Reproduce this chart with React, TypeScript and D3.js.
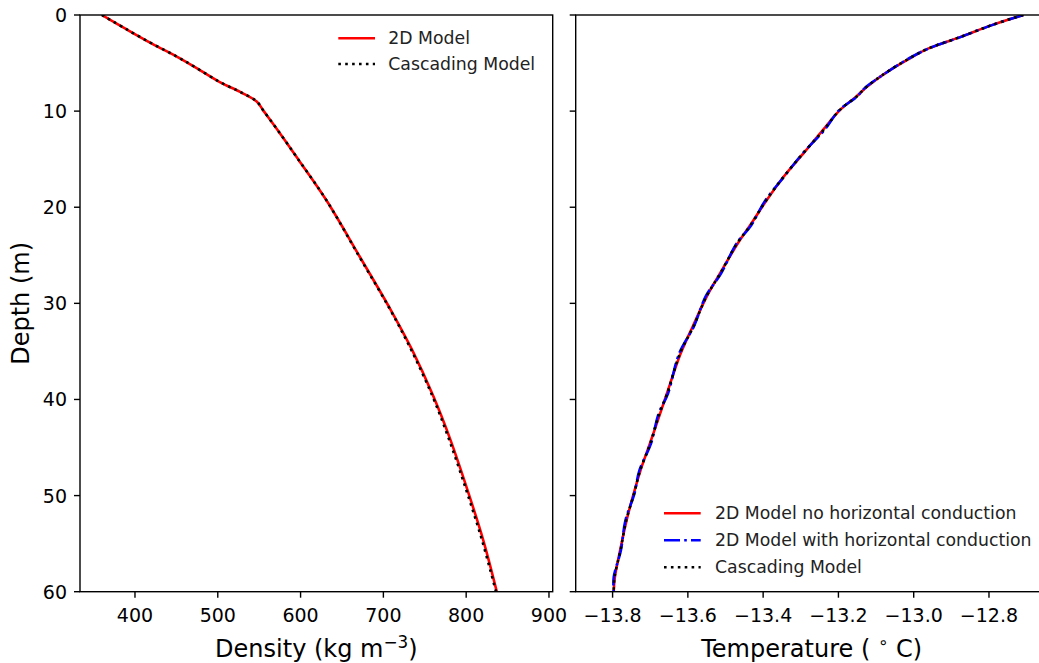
import React from "react";
import * as d3 from "d3";

// ---------- Data ----------
const densityDepth = [0, 1.5, 3, 4.3, 5.5, 7, 8, 9, 10, 12.3, 15, 19.25, 25.15, 30.7, 34.9, 39.7, 44.2, 49.4, 54.6, 60];
const density2D = [360, 390, 421, 450, 474, 503, 527, 547, 555.5, 575, 597, 631, 671.5, 709, 735, 760.5, 781, 801.5, 820.5, 837];
const densityCascade = [360, 390, 421, 450, 474, 503, 527, 547, 555.5, 575, 597, 631, 671, 708.5, 734, 759.5, 779.5, 800, 819, 836];

const tempDepth = [0, 1, 2.3, 3.5, 4.5, 5.9, 7.5, 8.5, 9.9, 12, 14.4, 16.8, 19.4, 21.9, 23.8, 26.9, 29.3, 32.4, 35.2, 39.4, 41.5, 44.6, 47.4, 49.8, 52.6, 55.7, 58.5, 60];
const tempNoHoriz = [-12.709, -12.789, -12.877, -12.962, -13.01, -13.07, -13.125, -13.153, -13.196, -13.242, -13.293, -13.345, -13.393, -13.435, -13.468, -13.515, -13.55, -13.587, -13.619, -13.656, -13.674, -13.701, -13.726, -13.744, -13.763, -13.78, -13.794, -13.797];
const tempWithHoriz = [-12.709, -12.788, -12.876, -12.961, -13.012, -13.069, -13.127, -13.151, -13.198, -13.238, -13.295, -13.344, -13.396, -13.432, -13.471, -13.512, -13.553, -13.584, -13.623, -13.653, -13.678, -13.698, -13.729, -13.742, -13.766, -13.778, -13.797, -13.797];
const tempCascade = [-12.709, -12.789, -12.877, -12.962, -13.011, -13.07, -13.126, -13.152, -13.197, -13.24, -13.294, -13.345, -13.394, -13.434, -13.47, -13.514, -13.551, -13.585, -13.621, -13.655, -13.676, -13.7, -13.727, -13.743, -13.764, -13.779, -13.795, -13.797];

const depthTicks = [0, 10, 20, 30, 40, 50, 60];
const densityTicks = [400, 500, 600, 700, 800, 900];
const tempTicks = [-13.8, -13.6, -13.4, -13.2, -13.0, -12.8];

const leftLegend = ["2D Model", "Cascading Model"];
const rightLegend = ["2D Model no horizontal conduction", "2D Model with horizontal conduction", "Cascading Model"];

// ---------- Layout ----------
const W = 1039;
const H = 663;
const top = 15;
const bottom = 591.7;
const L = { x0: 80, x1: 552.7 };
const R = { x0: 575.7, x1: 1047.7 };
const FONT = "DejaVu Sans, sans-serif";
const TICK_FS = 19;
const LABEL_FS = 24;
const LEG_FS = 17.3;
const LW = 2.6;

const fmtTemp = (v: number) => (v < 0 ? "\u2212" : "") + Math.abs(v).toFixed(1);

export default function App() {
  const y = d3.scaleLinear().domain([0, 60]).range([top, bottom]);
  const xD = d3.scaleLinear().domain([333.6, 904.5]).range([L.x0, L.x1]);
  const xT = d3.scaleLinear().domain([-13.898, -12.644]).range([R.x0, R.x1]);

  const lineD = (vals: number[]) =>
    d3
      .line<number>()
      .x((v) => xD(v))
      .y((_, i) => y(densityDepth[i]))
      .curve(d3.curveCatmullRom.alpha(0.5))(vals) || "";
  const lineT = (vals: number[]) =>
    d3
      .line<number>()
      .x((v) => xT(v))
      .y((_, i) => y(tempDepth[i]))
      .curve(d3.curveCatmullRom.alpha(0.5))(vals) || "";

  const dotted = "2.6 4.3";
  const dashdot = "16 4.2 2.6 4.2";

  return (
    <svg
      width={W}
      height={H}
      style={{ position: "absolute", left: 0, top: 0, background: "#fff" }}
      fontFamily={FONT}
    >
      <defs>
        <clipPath id="clipL">
          <rect x={L.x0} y={top} width={L.x1 - L.x0} height={bottom - top} />
        </clipPath>
        <clipPath id="clipR">
          <rect x={R.x0} y={top} width={R.x1 - R.x0} height={bottom - top} />
        </clipPath>
      </defs>

      {/* Left panel curves */}
      <g clipPath="url(#clipL)" fill="none">
        <path d={lineD(density2D)} stroke="#ff0000" strokeWidth={LW} />
        <path d={lineD(densityCascade)} stroke="#000" strokeWidth={LW} strokeDasharray={dotted} />
      </g>

      {/* Right panel curves */}
      <g clipPath="url(#clipR)" fill="none">
        <path d={lineT(tempNoHoriz)} stroke="#ff0000" strokeWidth={LW} />
        <path d={lineT(tempWithHoriz)} stroke="#0000ff" strokeWidth={LW} strokeDasharray={dashdot} />
        <path d={lineT(tempCascade)} stroke="#000" strokeWidth={LW} strokeDasharray={dotted} />
      </g>

      {/* Panel frames */}
      <rect x={L.x0} y={top} width={L.x1 - L.x0} height={bottom - top} fill="none" stroke="#000" strokeWidth={1.4} />
      <rect x={R.x0} y={top} width={R.x1 - R.x0} height={bottom - top} fill="none" stroke="#000" strokeWidth={1.4} />

      {/* Y ticks */}
      {depthTicks.map((t) => (
        <g key={"yl" + t}>
          <line x1={L.x0 - 6} x2={L.x0} y1={y(t)} y2={y(t)} stroke="#000" strokeWidth={1.4} />
          <text x={L.x0 - 13} y={y(t) + 7} textAnchor="end" fontSize={TICK_FS} fill="#000">
            {t}
          </text>
          <line x1={R.x0 - 6} x2={R.x0} y1={y(t)} y2={y(t)} stroke="#000" strokeWidth={1.4} />
        </g>
      ))}

      {/* X ticks left */}
      {densityTicks.map((t) => (
        <g key={"xd" + t}>
          <line x1={xD(t)} x2={xD(t)} y1={bottom} y2={bottom + 6} stroke="#000" strokeWidth={1.4} />
          <text x={xD(t)} y={621.5} textAnchor="middle" fontSize={TICK_FS} fill="#000">
            {t}
          </text>
        </g>
      ))}

      {/* X ticks right */}
      {tempTicks.map((t) => (
        <g key={"xt" + t}>
          <line x1={xT(t)} x2={xT(t)} y1={bottom} y2={bottom + 6} stroke="#000" strokeWidth={1.4} />
          <text x={xT(t)} y={621.5} textAnchor="middle" fontSize={TICK_FS} fill="#000">
            {fmtTemp(t)}
          </text>
        </g>
      ))}

      {/* Axis labels */}
      <text
        transform={`translate(29,${(top + bottom) / 2}) rotate(-90)`}
        textAnchor="middle"
        fontSize={LABEL_FS}
        fill="#000"
      >
        Depth (m)
      </text>
      <text x={(L.x0 + L.x1) / 2} y={656.5} textAnchor="middle" fontSize={LABEL_FS} fill="#000">
        Density (kg m
        <tspan fontSize={LABEL_FS * 0.7} dy={-9}>{"\u22123"}</tspan>
        <tspan dy={9}>)</tspan>
      </text>
      <text x={(R.x0 + R.x1) / 2} y={656.5} textAnchor="middle" fontSize={LABEL_FS} fill="#000" xmlSpace="preserve">
        {"Temperature ( "}
        <tspan fontSize={LABEL_FS * 0.7} dy={-9}>{"\u2218"}</tspan>
        <tspan dy={9}>{" C)"}</tspan>
      </text>

      {/* Left legend */}
      {leftLegend.map((lab, i) => {
        const ly = 38.3 + i * 25.7;
        return (
          <g key={"ll" + i}>
            <line
              x1={338.3}
              x2={375}
              y1={ly}
              y2={ly}
              stroke={i === 0 ? "#ff0000" : "#000"}
              strokeWidth={LW}
              strokeDasharray={i === 0 ? undefined : dotted}
            />
            <text x={388.3} y={ly + 6} fontSize={LEG_FS} fill="#222">
              {lab}
            </text>
          </g>
        );
      })}

      {/* Right legend */}
      {rightLegend.map((lab, i) => {
        const ly = 513.3 + i * 27;
        const col = i === 0 ? "#ff0000" : i === 1 ? "#0000ff" : "#000";
        const dash = i === 0 ? undefined : i === 1 ? dashdot : dotted;
        return (
          <g key={"rl" + i}>
            <line x1={664} x2={700.7} y1={ly} y2={ly} stroke={col} strokeWidth={LW} strokeDasharray={dash} />
            <text x={715} y={ly + 6} fontSize={LEG_FS} fill="#222">
              {lab}
            </text>
          </g>
        );
      })}
    </svg>
  );
}
